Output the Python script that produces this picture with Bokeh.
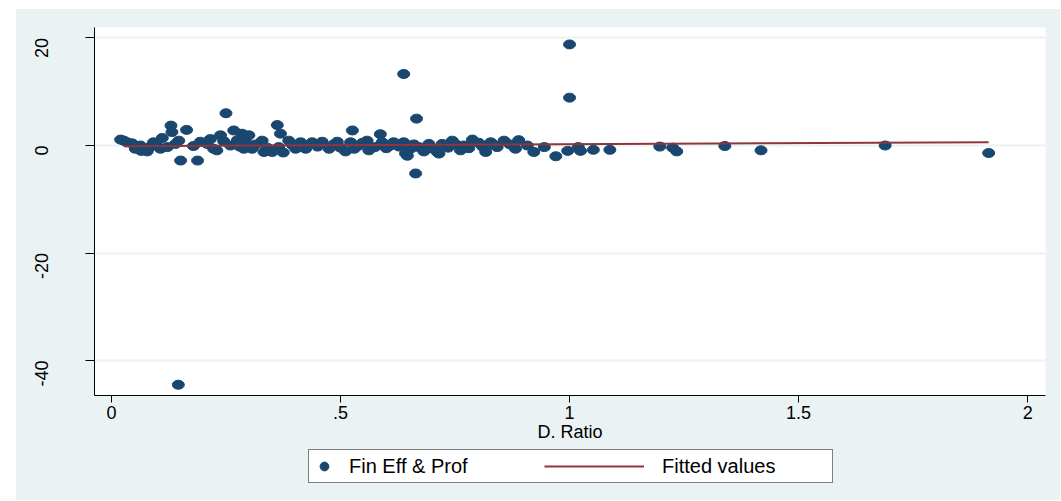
import math
from bokeh.plotting import figure
from bokeh.layouts import row, column
from bokeh.models import Range1d, FixedTicker, Legend, LegendItem, ColumnDataSource, Spacer
from bokeh.embed import file_html
from bokeh.resources import INLINE

# ---- data ----
ratio = [
    0.146, 1.000, 1.000, 0.638, 0.666, 0.664, 0.250, 0.362, 0.369, 0.130,
    0.132, 0.164, 0.151, 0.188, 0.267, 0.285, 0.526, 0.587,
    0.020, 0.027, 0.034, 0.052, 0.063, 0.078, 0.092, 0.107, 0.111, 0.122,
    0.147, 0.179, 0.194, 0.209, 0.216, 0.223, 0.238, 0.260, 0.289, 0.293,
    0.045, 0.070, 0.085, 0.098, 0.140, 0.230, 0.245, 0.275, 0.280, 0.065,
    0.300, 0.307, 0.329, 0.333, 0.351, 0.365, 0.387, 0.402, 0.413, 0.424,
    0.438, 0.460, 0.475, 0.493, 0.511, 0.522, 0.540, 0.558, 0.562, 0.591,
    0.609, 0.315, 0.340, 0.375, 0.395, 0.450, 0.485, 0.500, 0.530, 0.548,
    0.575, 0.600,
    0.616, 0.638, 0.642, 0.646, 0.653, 0.671, 0.693, 0.711, 0.715, 0.722,
    0.744, 0.762, 0.769, 0.788, 0.802, 0.817, 0.828, 0.842, 0.857, 0.882,
    0.889, 0.908, 0.922, 0.628, 0.660, 0.682, 0.700, 0.735, 0.752, 0.780,
    0.810, 0.835, 0.870,
    0.945, 0.970, 0.996, 1.019, 1.024, 1.052, 1.088, 1.197, 1.225, 1.234,
    1.339, 1.418, 1.689, 1.915,
]
fin_eff = [
    -44.5, 18.8, 8.9, 13.3, 5.0, -5.2, 6.0, 3.8, 2.2, 3.7,
    2.5, 2.9, -2.8, -2.8, 2.8, 2.2, 2.8, 2.1,
    1.1, 0.9, 0.6, -0.6, 0.0, -1.1, 0.6, -0.6, 1.4, -0.3,
    0.9, -0.1, 0.7, 0.3, 1.2, -0.6, 1.9, 0.0, -0.6, 0.6,
    0.4, -0.8, -0.2, 0.2, 0.3, -0.9, 0.8, 1.0, -0.2, -1.0,
    1.9, -0.6, 0.9, -1.2, -1.2, -0.3, 0.9, -0.6, 0.6, -0.6,
    0.6, 0.7, -0.6, 0.7, -1.1, 0.6, 0.0, 0.9, -0.9, 0.6,
    0.0, 0.2, -0.4, -1.3, 0.1, -0.2, 0.2, -0.4, -0.6, 0.5,
    -0.3, -0.5,
    0.6, 0.6, -1.5, -1.9, -0.6, -0.3, 0.3, -1.2, -1.5, 0.3,
    0.9, -0.9, 0.0, 1.1, 0.5, -1.2, 0.6, -0.3, 0.9, -0.6,
    1.0, 0.0, -1.2, -0.2, 0.2, -1.1, -0.5, -0.4, 0.2, -0.5,
    -0.2, 0.1, 0.2,
    -0.3, -2.0, -1.0, -0.3, -1.0, -0.8, -0.8, -0.2, -0.4, -1.1,
    -0.1, -0.9, 0.0, -1.4,
]
fit_x = [0.027, 1.915]
fit_y = [-0.12, 0.62]

x_ticks = [0, 0.5, 1, 1.5, 2]
x_tick_labels = ["0", ".5", "1", "1.5", "2"]
y_ticks = [-40, -20, 0, 20]
y_tick_labels = ["-40", "-20", "0", "20"]

series_labels = ["Fin Eff & Prof", "Fitted values"]
x_title = "D. Ratio"

# ---- styling ----
BG = "#EAF2F3"
NAVY = "#1A476F"
MAROON = "#90353B"
FONT = "Liberation Sans"

p = figure(
    width=1044, height=438,
    x_range=Range1d(-0.037, 2.039), y_range=Range1d(-46.5, 21.95),
    output_backend="svg", toolbar_location=None,
    min_border_left=78, min_border_right=15, min_border_top=18, min_border_bottom=52,
    background_fill_color="white", border_fill_color=BG,
    outline_line_color=None,
)

src = ColumnDataSource(dict(x=ratio, y=fin_eff))
p.ellipse(x="x", y="y", width=12, height=9, width_units="screen", height_units="screen",
          source=src, fill_color=NAVY, line_color=NAVY)
p.line(fit_x, fit_y, line_color=MAROON, line_width=2)

# axes
p.xgrid.grid_line_color = None
p.ygrid.grid_line_color = BG
p.ygrid.grid_line_width = 2
p.ygrid.ticker = FixedTicker(ticks=y_ticks)

p.xaxis.ticker = FixedTicker(ticks=x_ticks)
p.xaxis.major_label_overrides = {t: l for t, l in zip(x_ticks, x_tick_labels)}
p.yaxis.ticker = FixedTicker(ticks=y_ticks)
p.yaxis.major_label_overrides = {t: l for t, l in zip(y_ticks, y_tick_labels)}

for ax in (p.xaxis[0], p.yaxis[0]):
    ax.axis_line_color = "black"
    ax.axis_line_width = 1
    ax.major_tick_line_color = "black"
    ax.minor_tick_line_color = None
    ax.major_tick_in = 0
    ax.major_label_text_font = FONT
    ax.major_label_text_font_size = "18px"
    ax.major_label_text_color = "black"
    ax.axis_label_text_font = FONT
    ax.axis_label_text_font_style = "normal"
    ax.axis_label_text_font_size = "18px"
    ax.axis_label_text_color = "black"

p.xaxis.major_tick_out = 7
p.xaxis.major_label_standoff = 3
p.xaxis.axis_label = x_title
p.xaxis.axis_label_standoff = 0

p.yaxis.major_tick_out = 9
p.yaxis.major_label_orientation = math.pi / 2
p.yaxis.major_label_standoff = 44

# ---- legend strip below the plot (frame aligned with the main plot) ----
p2 = figure(
    width=1044, height=53,
    x_range=Range1d(0, 1), y_range=Range1d(0, 1),
    output_backend="svg", toolbar_location=None,
    x_axis_location=None, y_axis_location=None,
    min_border_left=78, min_border_right=15, min_border_top=0, min_border_bottom=0,
    background_fill_color=BG, border_fill_color=BG, outline_line_color=None,
)
p2.xgrid.grid_line_color = None
p2.ygrid.grid_line_color = None
leg_pt = p2.scatter(x=[-5], y=[-5], size=8, marker="circle", fill_color=NAVY, line_color=NAVY)
leg_ln = p2.line(x=[-5, -4], y=[-5, -5], line_color=MAROON, line_width=2)

legA = Legend(
    items=[LegendItem(label=series_labels[0], renderers=[leg_pt])],
    location=(214, 17), orientation="horizontal",
    padding=4, margin=0, spacing=0,
    glyph_width=22, glyph_height=24, label_height=24, label_width=479, label_standoff=14,
    border_line_color="black", border_line_width=1,
    background_fill_color="white", background_fill_alpha=1,
    label_text_font=FONT, label_text_font_size="20px", label_text_color="black",
)
legB = Legend(
    items=[LegendItem(label=series_labels[1], renderers=[leg_ln])],
    location=(450, 22), orientation="horizontal",
    padding=4, margin=0, spacing=0,
    glyph_width=100, glyph_height=24, label_height=24, label_standoff=18,
    border_line_color=None, background_fill_alpha=0,
    label_text_font=FONT, label_text_font_size="20px", label_text_color="black",
)
p2.add_layout(legA, "center")
p2.add_layout(legB, "center")

top_gap = Spacer(width=1044, height=9, styles={"background-color": "white"})
layout = row(
    Spacer(width=16, height=1),
    column(top_gap, p, p2, styles={"background-color": BG}),
)

open("out.html", "w").write(file_html(layout, INLINE))
